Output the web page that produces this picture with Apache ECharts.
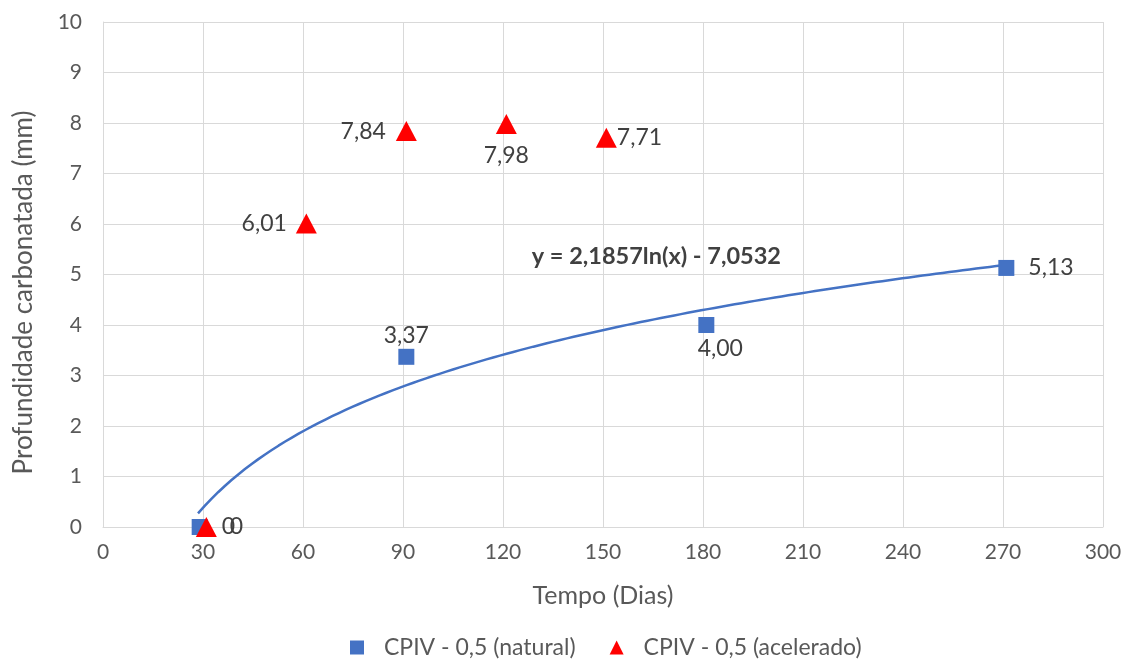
<!DOCTYPE html>
<html>
<head>
<meta charset="utf-8">
<script src="https://cdn.jsdelivr.net/npm/echarts@6/dist/echarts.min.js"></script>
<style>
  html, body { margin: 0; padding: 0; background: #fff; }
  #chart { width: 1126px; height: 660px; }
</style>
</head>
<body>
<div id="chart"></div>
<script>
// Carbonation depth over time
const naturalDays = [29, 91, 181, 271];
const naturalDepth = [0, 3.37, 4.00, 5.13];
const naturalLabelPos = ['right', 'top', 'bottom', 'right'];
const naturalLabelGap = [14, 2, 4, 14];
const naturalLabelShift = [0, 0, 14, 0];

const aceleradoDays = [31, 61, 91, 121, 151];
const aceleradoDepth = [0, 6.01, 7.84, 7.98, 7.71];
const aceleradoLabelPos = ['right', 'left', 'left', 'bottom', 'right'];
const aceleradoLabelGap = [13, 9, 10, 10, 0];

// Logarithmic trendline of the natural series: y = A ln(x) + B
const TREND_A = 2.1857;
const TREND_B = -7.0532;
const trendRange = [28.5, 270];
const trendText = 'y = 2,1857ln(x) - 7,0532';
const trendTextAt = [166, 5.35];

const xTicks = [0, 30, 60, 90, 120, 150, 180, 210, 240, 270, 300];

const fmt = v => v === 0 ? '0' : v.toFixed(2).replace('.', ',');

const trendPts = [];
for (let i = 0; i <= 120; i++) {
  const x = trendRange[0] + (trendRange[1] - trendRange[0]) * i / 120;
  trendPts.push([x, TREND_A * Math.log(x) + TREND_B]);
}

const FONT = 'Lato, "Open Sans", sans-serif';
const txt = '#595959';
const lbl = '#404040';

const chart = echarts.init(document.getElementById('chart'), null, { renderer: 'canvas' });
chart.setOption({
  animation: false,
  backgroundColor: '#ffffff',
  textStyle: { fontFamily: FONT },
  grid: { left: 103, right: 23, top: 22, bottom: 133 },
  xAxis: {
    type: 'value', min: xTicks[0], max: xTicks[xTicks.length - 1], interval: 30,
    name: 'Tempo (Dias)', nameLocation: 'middle', nameGap: 56,
    nameTextStyle: { fontSize: 25, color: txt, fontFamily: FONT },
    axisLine: { show: true, lineStyle: { color: '#d9d9d9', width: 1 } },
    axisTick: { show: false },
    axisLabel: { fontSize: 21, color: txt, margin: 15, fontFamily: FONT },
    splitLine: { show: true, lineStyle: { color: '#d9d9d9', width: 1 } }
  },
  yAxis: {
    type: 'value', min: 0, max: 10, interval: 1,
    name: 'Profundidade carbonatada (mm)', nameLocation: 'middle', nameGap: 66,
    nameTextStyle: { fontSize: 26, color: txt, fontFamily: FONT, padding: [0, 36, 0, 0] },
    axisLine: { show: true, lineStyle: { color: '#d9d9d9', width: 1 } },
    axisTick: { show: false },
    axisLabel: { fontSize: 21, color: txt, margin: 21, fontFamily: FONT },
    splitLine: { show: true, lineStyle: { color: '#d9d9d9', width: 1 } }
  },
  legend: {
    bottom: -4, left: 345, itemGap: 34, itemWidth: 14, itemHeight: 14,
    textStyle: { fontSize: 23, color: txt, fontFamily: FONT, padding: [0, 0, 0, 15] },
    data: [
      { name: 'CPIV - 0,5 (natural)', icon: 'rect', itemStyle: { color: '#4472C4' } },
      { name: 'CPIV - 0,5 (acelerado)', icon: 'triangle', itemStyle: { color: '#FF0000' } }
    ]
  },
  series: [
    {
      name: 'trend', type: 'line', data: trendPts, showSymbol: false, symbol: 'none',
      smooth: false, z: 1, silent: true,
      lineStyle: { color: '#4472C4', width: 2.5 },
      markPoint: {
        symbol: 'circle', symbolSize: 0,
        data: [{ coord: trendTextAt, value: trendText }],
        label: {
          show: true, formatter: trendText, fontSize: 23.5, fontWeight: 'bold',
          color: lbl, fontFamily: FONT
        }
      }
    },
    {
      name: 'CPIV - 0,5 (natural)', type: 'scatter', z: 3,
      symbol: 'rect', symbolSize: 16,
      itemStyle: { color: '#4472C4', opacity: 1 },
      data: naturalDays.map((d, i) => ({
        value: [d, naturalDepth[i]],
        label: {
          position: naturalLabelPos[i], distance: naturalLabelGap[i],
          offset: [naturalLabelShift[i], 0]
        }
      })),
      label: {
        show: true, fontSize: 23, color: lbl, fontFamily: FONT,
        formatter: p => fmt(p.value[1])
      }
    },
    {
      name: 'CPIV - 0,5 (acelerado)', type: 'scatter', z: 4,
      symbol: 'triangle', symbolSize: [21, 20],
      itemStyle: { color: '#FF0000', opacity: 1 },
      data: aceleradoDays.map((d, i) => ({
        value: [d, aceleradoDepth[i]],
        label: { position: aceleradoLabelPos[i], distance: aceleradoLabelGap[i] }
      })),
      label: {
        show: true, fontSize: 23, color: lbl, fontFamily: FONT,
        formatter: p => fmt(p.value[1])
      }
    }
  ]
});
</script>
</body>
</html>
